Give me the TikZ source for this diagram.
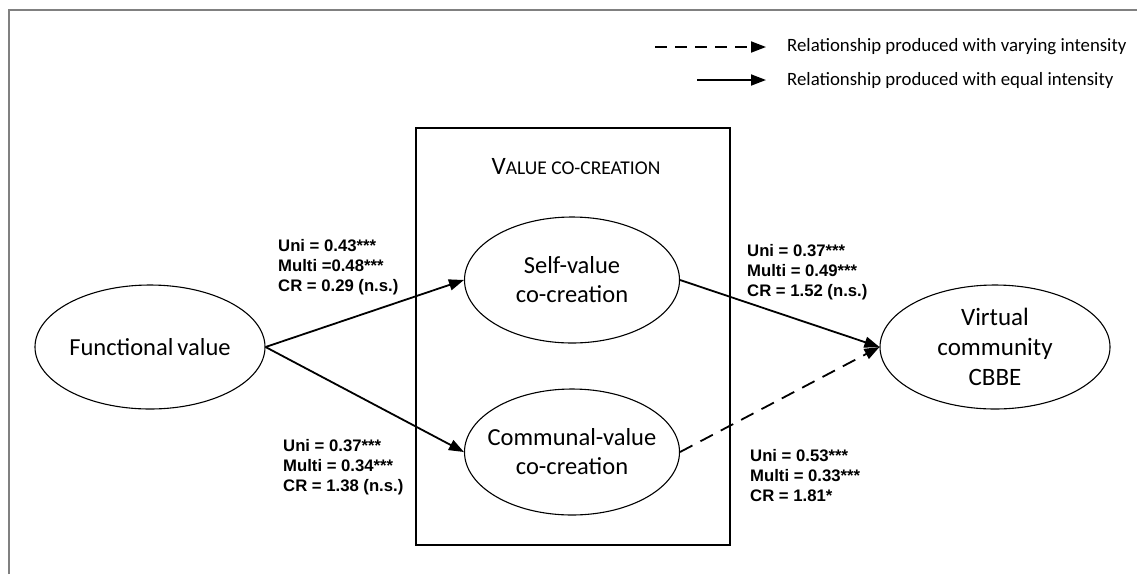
\documentclass[tikz,border=0pt]{standalone}
\usepackage{fontspec}
\setmainfont{Carlito}
\newfontfamily\arialfont{Liberation Sans}
\usetikzlibrary{arrows.meta,shapes.geometric}

\tikzset{
  construct/.style={draw, ellipse, inner xsep=-12pt, inner ysep=-6pt, line width=1.1pt, align=center,
    font=\fontsize{24.5}{29}\selectfont},
  coef/.style={anchor=north west, inner sep=0pt, align=left,
    font=\arialfont\bfseries\fontsize{16.7}{20}\selectfont},
  effect/.style={line width=1.8pt, -{Triangle[length=15pt,width=11pt]}},
  legtext/.style={anchor=west, inner sep=0pt, font=\fontsize{18.8}{20}\selectfont},
}

\begin{document}
\begin{tikzpicture}[x=1pt,y=-1pt]
\useasboundingbox (0,0) rectangle (1137,574);
% outer frame
\draw[gray, line width=1.6pt] (9,574) -- (9,10) -- (1137,10);

% legend
\coordinate (dashA) at (655,47);
\coordinate (dashB) at (766,47);
\coordinate (solA) at (697,80);
\coordinate (solB) at (766,80);
\draw[effect, dash pattern=on 12pt off 8pt] (dashA) -- (dashB);
\draw[effect] (solA) -- (solB);
\node[legtext] (legvar) at (787,47) {Relationship produced with varying intensity};
\node[legtext] (legeq) at (787,80) {Relationship produced with equal intensity};

% value co-creation box
\draw[line width=1.2pt] (416,128) rectangle (730,545);
\node (vcc) at (576,167) {\fontsize{25}{28}\selectfont V\fontsize{19.5}{28}\selectfont ALUE CO-CREATION};

% constructs
\node[construct, minimum width=230pt, minimum height=124pt] (func) at (150,347) {Functional\,value};
\node[construct, minimum width=215pt, minimum height=126pt] (self) at (572,280) {Self-value\\co-creation};
\node[construct, minimum width=215pt, minimum height=126pt] (comm) at (572,452) {Communal-value\\co-creation};
\node[construct, minimum width=230pt, minimum height=124pt, font=\fontsize{25}{30}\selectfont] (cbbe) at (995,347) {Virtual\\community\\CBBE};

% paths
\draw[effect] (func.east) -- (self.west);
\draw[effect] (func.east) -- (comm.west);
\draw[effect] (self.east) -- (cbbe.west);
\draw[effect, dash pattern=on 14pt off 9pt] (comm.east) -- (cbbe.west);

% coefficients
\node[coef] (c1) at (278,239) {Uni = 0.43***\\Multi =0.48***\\CR = 0.29 (n.s.)};
\node[coef] (c2) at (283,439) {Uni = 0.37***\\Multi = 0.34***\\CR = 1.38 (n.s.)};
\node[coef] (c3) at (747,244) {Uni = 0.37***\\Multi = 0.49***\\CR = 1.52 (n.s.)};
\node[coef] (c4) at (750,449) {Uni = 0.53***\\Multi = 0.33***\\CR = 1.81*};
\end{tikzpicture}
\end{document}
